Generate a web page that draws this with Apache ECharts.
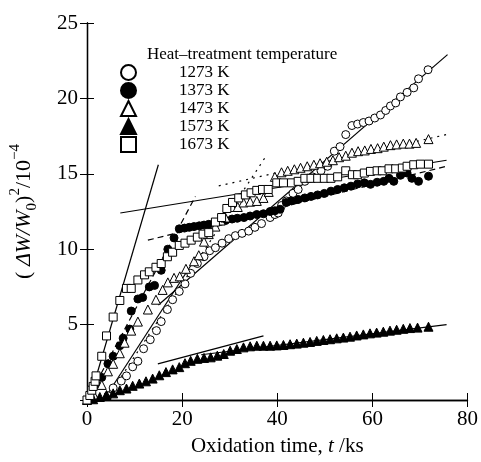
<!DOCTYPE html>
<html><head><meta charset="utf-8">
<script src="https://cdn.jsdelivr.net/npm/echarts@6/dist/echarts.min.js"></script>
<style>html,body{margin:0;padding:0;background:#fff}#c{width:481px;height:462px}</style>
</head><body><div id="c"></div>
<script>
// ---- Data ----
const seriesNames = ['1273 K', '1373 K', '1473 K', '1573 K', '1673 K'];
const legendTitle = 'Heat–treatment temperature';

const t1273 = [4.4,5.5,7.2,8.3,9.6,10.7,11.9,13.3,14.6,15.6,16.9,18.0,19.4,20.6,21.8,23.2,24.6,25.8,27.0,28.4,29.8,31.2,32.6,34.0,35.3,36.7,38.5,39.5,40.2,40.9,41.9,43.3,44.4,45.8,47.4,49.2,50.6,52.0,53.2,54.4,55.7,56.9,58.1,59.3,60.5,61.7,62.8,63.8,64.9,65.9,67.3,68.7,69.7,71.7];
const v1273 = [0.28,0.8,1.26,1.6,2.2,2.57,3.4,4.0,4.6,5.2,6.0,6.65,7.2,7.7,8.4,9.05,9.5,9.9,10.1,10.4,10.7,10.9,11.05,11.2,11.45,11.7,12.1,12.3,12.4,12.9,13.2,13.7,13.96,14.5,14.8,15.2,15.5,16.5,16.8,17.6,18.2,18.3,18.4,18.5,18.7,18.9,19.2,19.5,19.7,20.1,20.4,20.7,21.3,21.9];

const t1373 = [1.0,2.0,3.1,4.4,5.5,6.9,7.6,9.0,9.3,10.7,11.7,13.1,14.2,15.6,17.0,18.3,19.4,20.5,21.5,22.5,23.6,24.6,25.6,27.0,28.1,29.1,30.5,31.6,33.0,34.3,35.7,37.1,38.5,39.5,40.6,41.9,43.0,44.4,45.8,47.1,48.5,49.9,51.3,52.7,54.1,55.5,56.9,58.3,59.6,61.0,62.4,63.5,64.5,65.9,67.3,68.3,69.7,71.8];
const v1373 = [0.3,1.0,1.5,2.4,2.9,3.6,4.1,4.7,5.9,6.7,6.8,7.5,7.6,8.6,10.0,10.75,11.35,11.4,11.45,11.5,11.55,11.6,11.65,11.75,11.85,11.9,12.0,12.05,12.1,12.2,12.3,12.35,12.5,12.55,12.65,13.1,13.2,13.3,13.4,13.5,13.6,13.7,13.85,13.96,14.07,14.18,14.33,14.4,14.3,14.44,14.5,14.7,14.5,14.9,15.05,14.7,14.5,14.84];

const t1473 = [1.5,3.1,4.4,5.5,6.9,7.9,9.3,10.7,12.8,14.5,15.9,17.0,18.3,19.5,20.8,22.5,23.5,24.6,25.6,27.0,28.1,29.1,30.5,31.7,32.9,34.3,35.7,37.1,38.2,39.5,40.9,42.2,43.6,44.9,46.3,47.7,49.0,50.4,51.7,53.0,54.4,55.7,57.0,58.4,59.7,61.1,62.4,63.8,65.1,66.5,67.8,69.2,71.8];
const v1473 = [0.3,1.0,1.9,2.4,3.1,3.8,4.6,5.2,6.0,6.65,7.3,7.8,8.1,8.2,8.7,9.2,9.6,10.5,11.0,11.5,11.9,12.1,12.8,12.8,13.1,13.15,13.2,13.4,13.8,14.8,15.1,15.2,15.3,15.4,15.5,15.6,15.7,15.8,15.9,16.1,16.2,16.4,16.5,16.55,16.65,16.7,16.8,16.9,16.95,17.0,17.0,17.05,17.3];

const t1573 = [0.0,1.3,2.7,4.1,5.5,6.9,8.3,9.6,11.0,12.4,13.8,15.2,16.6,18.0,19.4,20.6,21.8,23.2,24.6,26.0,27.4,28.75,30.1,31.5,32.9,34.3,35.7,37.1,38.5,39.9,41.3,42.7,44.1,45.5,46.9,48.3,49.7,51.1,52.5,53.9,55.3,56.7,58.1,59.5,60.9,62.3,63.7,65.1,66.5,67.9,69.5,71.8];
const v1573 = [0.0,0.05,0.2,0.33,0.44,0.65,0.76,0.94,1.09,1.24,1.42,1.64,1.85,2.03,2.18,2.44,2.6,2.73,2.79,2.83,2.94,3.05,3.27,3.38,3.49,3.56,3.6,3.6,3.6,3.62,3.65,3.7,3.74,3.8,3.85,3.92,3.98,4.03,4.09,4.14,4.2,4.28,4.35,4.42,4.47,4.53,4.6,4.66,4.72,4.77,4.8,4.86];

const t1673 = [0.0,0.6,1.0,1.3,1.7,1.9,3.1,4.1,5.5,6.9,8.3,9.3,10.7,12.1,13.1,14.5,15.6,16.9,18.0,19.4,20.6,21.9,23.2,24.4,25.6,27.0,28.3,29.4,30.6,31.9,33.3,34.5,35.7,36.9,38.1,39.9,41.3,43.0,44.4,45.8,47.1,48.5,49.9,51.3,52.7,54.4,55.8,56.9,58.3,59.6,61.0,62.1,63.5,64.9,66.3,67.3,68.7,70.1,71.8];
const v1673 = [0.0,0.3,0.65,0.9,1.24,1.6,2.9,4.25,5.5,6.6,7.4,7.4,7.96,8.3,8.5,8.8,9.05,9.5,9.8,10.25,10.4,10.6,10.8,11.0,11.1,11.8,12.1,12.7,13.1,13.4,13.6,13.74,13.9,13.96,13.96,14.4,14.4,14.4,14.5,14.7,14.7,14.7,14.7,14.7,14.8,15.2,14.94,14.94,15.05,15.16,15.2,15.2,15.33,15.33,15.38,15.5,15.6,15.64,15.64];

// fitted straight lines (start / end points in data units)
const fit1273a = [[3.5, 0], [22, 9]];
const fit1273b = [[15, 6.3], [75.8, 22.9]];
const fit1373a = [[0, 0], [22.8, 13.5]];
const fit1373b = [[12.8, 10.6], [75.6, 15.5]];
const fit1473a = [[4, 0], [37.8, 16.25]];
const fit1473b = [[27.7, 14.2], [75.6, 17.6]];
const fit1573a = [[14.9, 2.4], [37.1, 4.25]];
const fit1573b = [[24, 3.0], [75.6, 5.0]];
const fit1673a = [[0.5, 0], [15, 15.6]];
const fit1673b = [[7, 12.4], [75.6, 15.9]];

// ---- Build chart ----
const FONT = 'Liberation Serif';
const zip = (a, b) => a.map((v, i) => [v, b[i]]);

function scatter(name, t, v, symbol, filled) {
  return {
    name, type: 'scatter', data: zip(t, v), symbol, symbolSize: symbol === 'triangle' ? 9 : 8,
    itemStyle: { color: filled ? '#000' : '#fff', borderColor: '#000', borderWidth: 1, opacity: 1 },
    emphasis: { disabled: true }, z: 3
  };
}
function fit(data, type) {
  const dash = type === 'dashed' ? [6, 4] : type === 'dotted' ? [2, 5] : 'solid';
  return {
    type: 'line', data, symbol: 'none', silent: true, z: 2,
    lineStyle: { color: '#000', width: 1.2, type: dash }
  };
}

const axisCommon = {
  min: 0, axisLine: { show: true, lineStyle: { color: '#000', width: 1.3 } },
  axisTick: { show: true, inside: true, length: 7, lineStyle: { color: '#000', width: 1 } },
  splitLine: { show: false },
  axisLabel: { fontFamily: FONT, fontSize: 21, color: '#000' }
};

const option = {
  backgroundColor: '#fff',
  animation: false,
  grid: { left: 87, right: 10, top: 23, bottom: 57 },
  xAxis: [
    Object.assign({}, axisCommon, {
      type: 'value', max: 80, interval: 20, position: 'bottom',
      axisLabel: Object.assign({}, axisCommon.axisLabel, { margin: 9 }),
      name: 'Oxidation time, {i|t} /ks', nameLocation: 'middle', nameGap: 36,
      nameTextStyle: { fontFamily: FONT, fontSize: 21, color: '#000',
        rich: { i: { fontFamily: FONT, fontSize: 21, fontStyle: 'italic', color: '#000' } } }
    }),
    Object.assign({}, axisCommon, { type: 'value', max: 80, interval: 20, position: 'top', axisLabel: { show: false } })
  ],
  yAxis: [
    Object.assign({}, axisCommon, {
      type: 'value', max: 25, interval: 5, position: 'left',
      axisLabel: Object.assign({}, axisCommon.axisLabel, { margin: 9, showMinLabel: false }),
      name: '( {i|ΔW/W}{sub|0}){sup|2}/10{sup|−4}', nameLocation: 'middle', nameRotate: 90, nameGap: 47,
      nameTextStyle: { fontFamily: FONT, fontSize: 22, color: '#000', lineHeight: 32,
        rich: {
          i: { fontFamily: FONT, fontSize: 22, fontStyle: 'italic', color: '#000', lineHeight: 32 },
          sub: { fontFamily: FONT, fontSize: 15, color: '#000', verticalAlign: 'bottom', lineHeight: 32 },
          sup: { fontFamily: FONT, fontSize: 15, color: '#000', verticalAlign: 'top', lineHeight: 32 }
        } }
    }),
    Object.assign({}, axisCommon, { type: 'value', max: 25, interval: 5, position: 'right', axisLabel: { show: false } })
  ],
  title: {
    text: legendTitle, left: 142, top: 41,
    textStyle: { fontFamily: FONT, fontSize: 17, fontWeight: 'normal', color: '#000' }
  },
  legend: {
    data: seriesNames, orient: 'vertical', left: 115, top: 59,
    itemWidth: 15, itemHeight: 15, itemGap: 1, selectedMode: false,
    textStyle: { fontFamily: FONT, fontSize: 17, color: '#000', padding: [0, 0, 0, 38], lineHeight: 16 }
  },
  series: [
    fit(fit1273a, 'solid'), fit(fit1273b, 'solid'),
    fit(fit1373a, 'dashed'), fit(fit1373b, 'dashed'),
    fit(fit1473a, 'dotted'), fit(fit1473b, 'dotted'),
    fit(fit1573a, 'solid'), fit(fit1573b, 'solid'),
    fit(fit1673a, 'solid'), fit(fit1673b, 'solid'),
    scatter(seriesNames[0], t1273, v1273, 'circle', false),
    scatter(seriesNames[1], t1373, v1373, 'circle', true),
    scatter(seriesNames[2], t1473, v1473, 'triangle', false),
    scatter(seriesNames[3], t1573, v1573, 'triangle', true),
    scatter(seriesNames[4], t1673, v1673, 'rect', false)
  ]
};
const chart = echarts.init(document.getElementById('c'), null, { renderer: 'canvas' });
chart.setOption(option);
</script></body></html>
